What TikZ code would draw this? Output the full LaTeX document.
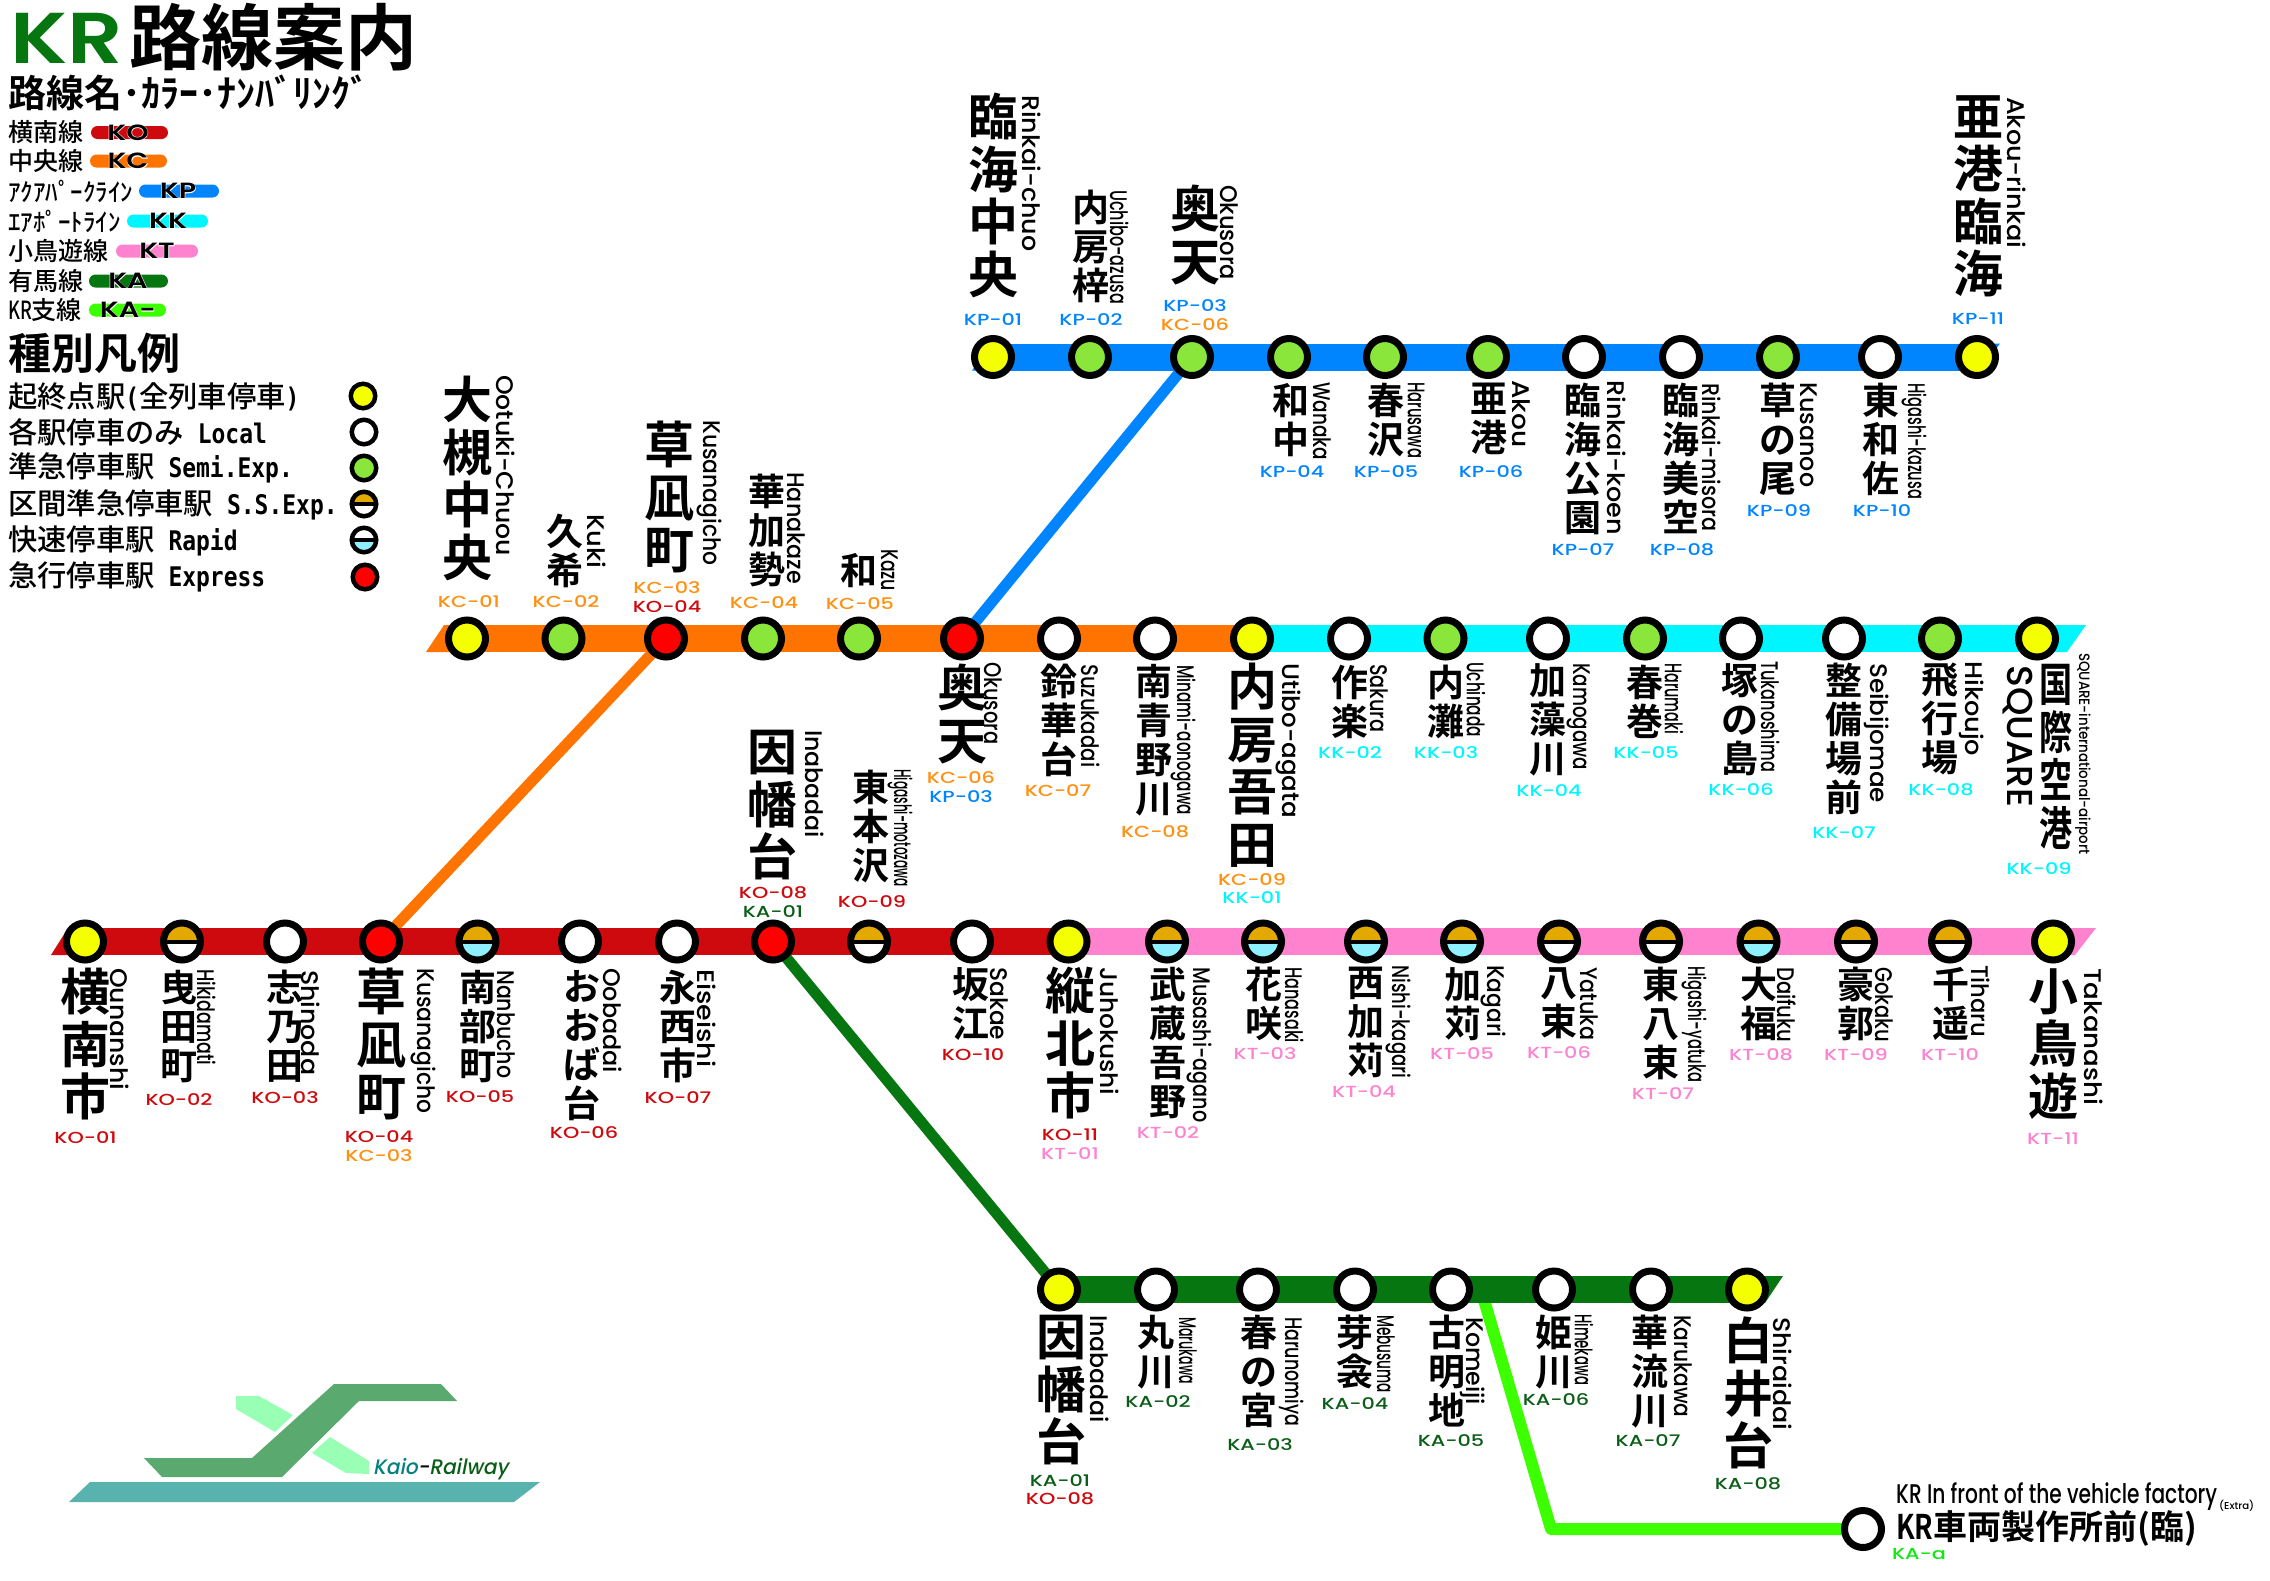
\documentclass[tikz,border=0pt]{standalone}
\usepackage{fontspec}
\usetikzlibrary{backgrounds}
\setmainfont{Noto Sans CJK JP Medium}[BoldFont={Noto Sans CJK JP Bold}]
\newfontfamily\lgmono[FakeStretch=.85]{DejaVu Sans Mono}
\newfontfamily\romafont{Poppins Medium}
\newfontfamily\krfont{Poppins SemiBold}
\newfontfamily\codefont[FakeStretch=1.3]{Poppins Medium}
\newfontfamily\pillfont[FakeStretch=1.3]{Poppins SemiBold}
\newfontfamily\pillhalo[FakeStretch=1.3,FakeBold=5]{Poppins SemiBold}
\newfontfamily\logofont[FakeSlant=0.2]{Poppins Medium}
\definecolor{kocol}{HTML}{CF0A0E}
\definecolor{kccol}{HTML}{FF7400}
\definecolor{kpcol}{HTML}{0085FF}
\definecolor{kkcol}{HTML}{00F6FF}
\definecolor{ktcol}{HTML}{FF82CF}
\definecolor{kacol}{HTML}{067610}
\definecolor{kbcol}{HTML}{3CFF00}
\definecolor{kacode}{HTML}{0B5E18}
\definecolor{kaacode}{HTML}{10E810}
\definecolor{kccode}{HTML}{FF9010}
\definecolor{startcol}{HTML}{F4FF00}
\definecolor{semicol}{HTML}{8BE63C}
\definecolor{exprcol}{HTML}{FF0000}
\definecolor{secucol}{HTML}{E3A900}
\definecolor{rapidcol}{HTML}{8FF0FF}
\definecolor{logoteal}{HTML}{58B2AE}
\definecolor{logogreen}{HTML}{5AAA70}
\definecolor{logomint}{HTML}{99FFB5}
\tikzset{
  stn/.style={circle,draw=black,line width=7pt,minimum size=37pt,inner sep=0pt,fill=white},
  ststart/.style={stn,fill=startcol},
  stsemi/.style={stn,fill=semicol},
  stexpr/.style={stn,fill=exprcol},
  sthalf/.style 2 args={stn,path picture={
    \fill[#1] (path picture bounding box.north west) rectangle (path picture bounding box.east);
    \fill[#2] (path picture bounding box.west) rectangle (path picture bounding box.south east);
    \fill[black] ([yshift=-2pt]path picture bounding box.west) rectangle ([yshift=2pt]path picture bounding box.east);}},
  lgsize/.style={line width=4.5pt,minimum size=24.5pt},
  bigjp/.style={anchor=north,inner sep=0pt,align=center,font=\bfseries\fontsize{50}{52.5}\selectfont},
  smalljp/.style={anchor=north,inner sep=0pt,align=center,font=\bfseries\fontsize{37}{39}\selectfont},
  narrowjp/.style={anchor=north,inner sep=0pt,align=center,font=\bfseries\fontsize{46}{48}\selectfont},
  romaname/.style={rotate=-90,anchor=west,inner sep=0pt,font=\romafont\fontsize{24}{24}\selectfont},
  codetxt/.style={inner sep=0pt,font=\codefont\fontsize{16}{16}\selectfont},
  lgtxt/.style={anchor=west,inner sep=0pt,font=\fontsize{25}{25}\selectfont},
  lgrow/.style={anchor=west,inner sep=0pt,font=\fontsize{29.3}{29.3}\selectfont},
  pillbox/.style={rectangle,rounded corners=6.5pt,minimum height=13pt,inner sep=0pt},
  pilltxt/.style={inner sep=0pt,font=\pillfont\fontsize{22}{22}\selectfont},
  pillback/.style={inner sep=0pt,text=white,font=\pillhalo\fontsize{22}{22}\selectfont},
  bandline/.style={line width=27pt},
  armline/.style={line width=11pt},
}
\newcommand{\stname}[9]{%
  \node[#2] (#1) at (#3,#4) {#5};
  \node[romaname] (#1r) at (#6,#7) {\resizebox{#8pt}{\height}{#9}};
}
\newcommand{\stcode}[5]{\node[codetxt,text=#2] (#1) at (#3,#4) {#5};}
\newcommand{\bandend}[4]{\fill[#2] ([shift={(#3,13.5)}]#1.center) -- ([shift={(#4,-13.5)}]#1.center) -- ([shift={(0,-13.5)}]#1.center) -- ([shift={(0,13.5)}]#1.center) -- cycle;}
\newcommand{\nrw}[1]{\scalebox{.72}[1]{#1}}
\newcommand{\lat}[1]{{\lgmono\bfseries\fontsize{27}{27}\selectfont #1}}
\newcommand{\pilllabel}[4]{%
  \node[pillback] (#1w) at (#2,#3) {#4};
  \node[pilltxt] (#1) at (#2,#3) {#4};
}
\begin{document}
\begin{tikzpicture}[x=1pt,y=-1pt]
  \useasboundingbox (0,0) rectangle (2270,1580);
  % Title
  \node[inner sep=0pt,anchor=west,text=kacol] (krlogo) at (10,38) {\resizebox{113pt}{\height}{\krfont\fontsize{72}{72}\selectfont KR}};
  \node[inner sep=0pt,anchor=west,font=\bfseries\fontsize{72}{72}\selectfont] (title) at (129,37) {路線案内};
  \node[inner sep=0pt,anchor=west,font=\bfseries\fontsize{38}{38}\selectfont] (lgtitle) at (8,93) {路線名･ｶﾗｰ･ﾅﾝﾊﾞﾘﾝｸﾞ};
  % Line legend
  \node[lgtxt] (lgko) at (8,132) {横南線};
  \node[lgtxt] (lgkc) at (8,161) {中央線};
  \node[lgtxt] (lgkp) at (8,191) {ｱｸｱﾊﾟｰｸﾗｲﾝ};
  \node[lgtxt] (lgkk) at (8,221) {ｴｱﾎﾟｰﾄﾗｲﾝ};
  \node[lgtxt] (lgkt) at (8,251) {小鳥遊線};
  \node[lgtxt] (lgka) at (8,281) {有馬線};
  \node[lgtxt] (lgkb) at (8,310) {\scalebox{.72}[1]{KR}支線};
  \node[pillbox,fill=kocol,minimum width=77pt] (pko) at (129.5,132.5) {};
  \node[pillbox,fill=kccol,minimum width=77pt] (pkc) at (128.5,161) {};
  \node[pillbox,fill=kpcol,minimum width=80pt] (pkp) at (179,191) {};
  \node[pillbox,fill=kkcol,minimum width=81pt] (pkk) at (167.5,221) {};
  \node[pillbox,fill=ktcol,minimum width=82pt] (pkt) at (157,251) {};
  \node[pillbox,fill=kacol,minimum width=79pt] (pka) at (128.5,281) {};
  \node[pillbox,fill=kbcol,minimum width=77pt] (pkb) at (127.5,310) {};
  \pilllabel{tko}{128}{132.5}{KO}
  \pilllabel{tkc}{128}{161}{KC}
  \pilllabel{tkp}{178}{191}{KP}
  \pilllabel{tkk}{168}{221}{KK}
  \pilllabel{tkt}{157}{251}{KT}
  \pilllabel{tka}{128}{281}{KA}
  \pilllabel{tkb}{128}{310}{KA-}
  % Stop legend
  \node[inner sep=0pt,anchor=west,font=\bfseries\fontsize{43}{43}\selectfont] (lgkind) at (8,353) {種別凡例};
  \node[lgrow] (rowa) at (8,397) {起終点駅\lat{(}全列車停車\lat{)}};
  \node[lgrow] (rowb) at (8,432) {各駅停車のみ\lat{\ Local}};
  \node[lgrow] (rowc) at (8,468) {準急停車駅\lat{\ Semi.Exp.}};
  \node[lgrow] (rowd) at (8,505) {区間準急停車駅\lat{\ S.S.Exp.}};
  \node[lgrow] (rowe) at (8,541) {快速停車駅\lat{\ Rapid}};
  \node[lgrow] (rowf) at (8,577) {急行停車駅\lat{\ Express}};
  \node[ststart,lgsize] (lgsa) at (363,396) {};
  \node[stn,lgsize] (lgsb) at (364,432) {};
  \node[stsemi,lgsize] (lgsc) at (364,468) {};
  \node[sthalf={secucol}{white},lgsize] (lgsd) at (364,504) {};
  \node[sthalf={white}{rapidcol},lgsize] (lgse) at (364,540) {};
  \node[stexpr,lgsize] (lgsf) at (365,577) {};
  % Aqua Park Line
  \node[ststart] (kp1) at (993,357) {};
  \node[stsemi] (kp2) at (1090,357) {};
  \node[stsemi] (kp3) at (1192,357) {};
  \node[stsemi] (kp4) at (1289,357) {};
  \node[stsemi] (kp5) at (1385,357) {};
  \node[stsemi] (kp6) at (1488,357) {};
  \node[stn] (kp7) at (1584,357) {};
  \node[stn] (kp8) at (1681,357) {};
  \node[stsemi] (kp9) at (1778,357) {};
  \node[stn] (kp10) at (1880,357) {};
  \node[ststart] (kp11) at (1977,357) {};
  \stname{kp1n}{bigjp}{993}{93}{臨\\海\\中\\央}{1032}{95}{156}{Rinkai-chuo}
  \stname{kp2n}{smalljp}{1091}{190}{内\\房\\梓}{1120}{190}{114}{Uchibo-azusa}
  \stname{kp3n}{bigjp}{1195}{185}{奥\\天}{1229}{185}{95}{Okusora}
  \stname{kp4n}{smalljp}{1291}{383}{和\\中}{1322}{382}{78}{Wanaka}
  \stname{kp5n}{smalljp}{1386}{383}{春\\沢}{1416}{382}{76}{Harusawa}
  \stname{kp6n}{smalljp}{1489}{383}{亜\\港}{1521}{380}{67}{Akou}
  \stname{kp7n}{smalljp}{1583}{383}{臨\\海\\公\\園}{1617}{380}{155}{Rinkai-koen}
  \stname{kp8n}{smalljp}{1681}{383}{臨\\海\\美\\空}{1712}{383}{148}{Rinkai-misora}
  \stname{kp9n}{smalljp}{1778}{383}{草\\の\\尾}{1809}{382}{105}{Kusanoo}
  \stname{kp10n}{smalljp}{1881}{383}{東\\和\\佐}{1914}{383}{116}{Higashi-kazusa}
  \stname{kp11n}{bigjp}{1978}{95}{亜\\港\\臨\\海}{2017}{97}{151}{Akou-rinkai}
  \stcode{kp1c}{kpcol}{993}{320}{KP-01}
  \stcode{kp2c}{kpcol}{1091}{320}{KP-02}
  \stcode{kp3c}{kpcol}{1195}{306}{KP-03}
  \stcode{kp3d}{kccode}{1195}{325}{KC-06}
  \stcode{kp4c}{kpcol}{1292}{472}{KP-04}
  \stcode{kp5c}{kpcol}{1386}{472}{KP-05}
  \stcode{kp6c}{kpcol}{1491}{472}{KP-06}
  \stcode{kp7c}{kpcol}{1583}{550}{KP-07}
  \stcode{kp8c}{kpcol}{1682}{550}{KP-08}
  \stcode{kp9c}{kpcol}{1779}{511}{KP-09}
  \stcode{kp10c}{kpcol}{1882}{511}{KP-10}
  \stcode{kp11c}{kpcol}{1978}{319}{KP-11}
  % Central Line
  \node[ststart] (kc1) at (467,638.5) {};
  \node[stsemi] (kc2) at (563.5,638.5) {};
  \node[stexpr] (kc3) at (666,638.5) {};
  \node[stsemi] (kc4) at (763,638.5) {};
  \node[stsemi] (kc5) at (859,638.5) {};
  \node[stexpr] (kc6) at (962,638.5) {};
  \node[stn] (kc7) at (1059,638.5) {};
  \node[stn] (kc8) at (1155,638.5) {};
  \node[ststart] (kc9) at (1252,638.5) {};
  \stname{kc1n}{bigjp}{467}{376}{大\\槻\\中\\央}{506}{375}{181}{Ootuki-Chuou}
  \stname{kc2n}{smalljp}{564.5}{514}{久\\希}{597}{514}{54}{Kuki}
  \stname{kc3n}{bigjp}{669}{421}{草\\凪\\町}{709}{420}{145}{Kusanagicho}
  \stname{kc4n}{smalljp}{767}{474}{華\\加\\勢}{796}{472}{112}{Hanakaze}
  \stname{kc5n}{smalljp}{859}{553}{和}{890}{549}{42}{Kazu}
  \stname{kc6n}{bigjp}{962}{664}{奥\\天}{993}{662}{82}{Okusora}
  \stname{kc7n}{smalljp}{1059}{664}{鈴\\華\\台}{1091}{664}{103}{Suzukadai}
  \stname{kc8n}{smalljp}{1154}{664}{南\\青\\野\\川}{1183}{665}{150}{Minami-aonogawa}
  \stname{kc9n}{bigjp}{1252}{663}{内\\房\\吾\\田}{1288}{663}{155}{Utibo-agata}
  \stcode{kc1c}{kccode}{469}{602}{KC-01}
  \stcode{kc2c}{kccode}{566}{602}{KC-02}
  \stcode{kc3c}{kccode}{667}{588}{KC-03}
  \stcode{kc3d}{kocol}{667}{607}{KO-04}
  \stcode{kc4c}{kccode}{764}{603}{KC-04}
  \stcode{kc5c}{kccode}{860}{603.5}{KC-05}
  \stcode{kc6c}{kccode}{961}{778}{KC-06}
  \stcode{kc6d}{kpcol}{961}{797}{KP-03}
  \stcode{kc7c}{kccode}{1058}{791}{KC-07}
  \stcode{kc8c}{kccode}{1155}{832}{KC-08}
  \stcode{kc9c}{kccode}{1252}{880}{KC-09}
  \stcode{kc9d}{kkcol}{1252}{898}{KK-01}
  % Airport Line
  \node[stn] (kk2) at (1349,638.5) {};
  \node[stsemi] (kk3) at (1445.5,638.5) {};
  \node[stn] (kk4) at (1548,638.5) {};
  \node[stsemi] (kk5) at (1645,638.5) {};
  \node[stn] (kk6) at (1741,638.5) {};
  \node[stn] (kk7) at (1844,638.5) {};
  \node[stsemi] (kk8) at (1940,638.5) {};
  \node[ststart] (kk9) at (2037,638.5) {};
  \stname{kk2n}{smalljp}{1350}{665}{作\\楽}{1379}{664}{68}{Sakura}
  \stname{kk3n}{smalljp}{1446}{665}{内\\灘}{1476}{662}{75}{Uchinada}
  \stname{kk4n}{smalljp}{1548}{663}{加\\藻\\川}{1579}{663}{107}{Kamogawa}
  \stname{kk5n}{smalljp}{1645}{665}{春\\巻}{1674}{663}{71}{Harumaki}
  \stname{kk6n}{smalljp}{1740}{663}{塚\\の\\島}{1771}{661}{111}{Tukanoshima}
  \stname{kk7n}{smalljp}{1844}{663}{整\\備\\場\\前}{1877}{663}{140}{Seibijomae}
  \stname{kk8n}{smalljp}{1940}{663}{飛\\行\\場}{1972}{661}{95}{Hikoujo}
  \stname{kk9n}{narrowjp}{2056}{664}{\nrw{国}\\\nrw{際}\\\nrw{空}\\\nrw{港}}{2083}{653}{201}{\fontsize{15}{15}\selectfont SQUARE-international-airport}
  \node[romaname] (kk9s) at (2018,665) {\resizebox{142pt}{\height}{\fontsize{36}{36}\selectfont SQUARE}};
  \stcode{kk2c}{kkcol}{1350}{753}{KK-02}
  \stcode{kk3c}{kkcol}{1446}{753}{KK-03}
  \stcode{kk4c}{kkcol}{1549}{791}{KK-04}
  \stcode{kk5c}{kkcol}{1646}{753}{KK-05}
  \stcode{kk6c}{kkcol}{1741}{790}{KK-06}
  \stcode{kk7c}{kkcol}{1844}{833}{KK-07}
  \stcode{kk8c}{kkcol}{1941}{790}{KK-08}
  \stcode{kk9c}{kkcol}{2039}{869}{KK-09}
  % Onan Line
  \node[ststart] (ko1) at (85,941.5) {};
  \node[sthalf={secucol}{white}] (ko2) at (182,941.5) {};
  \node[stn] (ko3) at (285,941.5) {};
  \node[stexpr] (ko4) at (381,941.5) {};
  \node[sthalf={secucol}{rapidcol}] (ko5) at (477.5,941.5) {};
  \node[stn] (ko6) at (580,941.5) {};
  \node[stn] (ko7) at (677,941.5) {};
  \node[stexpr] (ko8) at (773,941.5) {};
  \node[sthalf={secucol}{white}] (ko9) at (869,941.5) {};
  \node[stn] (ko10) at (972,941.5) {};
  \node[ststart] (ko11) at (1068.5,941.5) {};
  \stname{ko1n}{bigjp}{85}{968}{横\\南\\市}{120}{968}{122}{Ounanshi}
  \stname{ko2n}{smalljp}{179}{970}{曳\\田\\町}{207}{969}{96}{Hikidamati}
  \stname{ko3n}{smalljp}{285}{970}{志\\乃\\田}{311}{970}{105}{Shinoda}
  \stname{ko4n}{bigjp}{381.5}{968}{草\\凪\\町}{423}{968}{145}{Kusanagicho}
  \stname{ko5n}{smalljp}{478}{970}{南\\部\\町}{506.5}{970}{108}{Nanbucho}
  \stname{ko6n}{smalljp}{581.5}{970}{お\\お\\ば\\台}{613}{968}{105}{Oobadai}
  \stname{ko7n}{smalljp}{678}{970}{永\\西\\市}{707}{969}{98}{Eiseishi}
  \stname{ko8n}{bigjp}{772}{730}{因\\幡\\台}{815}{730}{108}{Inabadai}
  \stname{ko9n}{smalljp}{871}{770}{東\\本\\沢}{900}{769}{118}{Higashi-motozawa}
  \stname{ko10n}{smalljp}{971}{967}{坂\\江}{999}{967}{73}{Sakae}
  \stname{ko11n}{bigjp}{1070}{967}{縦\\北\\市}{1110}{967}{128}{Juhokushi}
  \stcode{ko1c}{kocol}{85.5}{1138}{KO-01}
  \stcode{ko2c}{kocol}{179}{1100}{KO-02}
  \stcode{ko3c}{kocol}{285}{1098}{KO-03}
  \stcode{ko4c}{kocol}{379}{1137}{KO-04}
  \stcode{ko4d}{kccode}{379}{1156}{KC-03}
  \stcode{ko5c}{kocol}{480}{1097}{KO-05}
  \stcode{ko6c}{kocol}{584}{1133}{KO-06}
  \stcode{ko7c}{kocol}{678}{1098}{KO-07}
  \stcode{ko8c}{kocol}{773}{893}{KO-08}
  \stcode{ko8d}{kacode}{773}{912}{KA-01}
  \stcode{ko9c}{kocol}{872}{902}{KO-09}
  \stcode{ko10c}{kocol}{973}{1055}{KO-10}
  \stcode{ko11c}{kocol}{1070}{1135}{KO-11}
  \stcode{ko11d}{ktcol}{1070}{1154}{KT-01}
  % Kotori Line
  \node[sthalf={secucol}{rapidcol}] (kt2) at (1167,941.5) {};
  \node[sthalf={secucol}{rapidcol}] (kt3) at (1263,941.5) {};
  \node[sthalf={secucol}{rapidcol}] (kt4) at (1366,941.5) {};
  \node[sthalf={secucol}{rapidcol}] (kt5) at (1462,941.5) {};
  \node[sthalf={secucol}{white}] (kt6) at (1559,941.5) {};
  \node[sthalf={secucol}{white}] (kt7) at (1661,941.5) {};
  \node[sthalf={secucol}{rapidcol}] (kt8) at (1758.5,941.5) {};
  \node[sthalf={secucol}{white}] (kt9) at (1856,941.5) {};
  \node[sthalf={secucol}{white}] (kt10) at (1950,941.5) {};
  \node[ststart] (kt11) at (2053,941.5) {};
  \stname{kt2n}{smalljp}{1168}{967}{武\\蔵\\吾\\野}{1199}{967}{155}{Musashi-agano}
  \stname{kt3n}{smalljp}{1264}{967}{花\\咲}{1295}{967}{76}{Hanasaki}
  \stname{kt4n}{smalljp}{1366}{967}{西\\加\\苅}{1398}{965}{113}{Nishi-kagari}
  \stname{kt5n}{smalljp}{1463}{967}{加\\苅}{1493}{965}{72}{Kagari}
  \stname{kt6n}{smalljp}{1559}{967}{八\\束}{1589}{967}{73}{Yatuka}
  \stname{kt7n}{smalljp}{1661}{967}{東\\八\\束}{1694}{966}{116}{Higashi-yatuka}
  \stname{kt8n}{smalljp}{1759}{967}{大\\福}{1787}{967}{75}{Daifuku}
  \stname{kt9n}{smalljp}{1856}{967}{豪\\郭}{1884}{967}{75}{Gokaku}
  \stname{kt10n}{smalljp}{1951}{967}{千\\遥}{1981}{965}{72}{Tiharu}
  \stname{kt11n}{bigjp}{2053}{968}{小\\鳥\\遊}{2094}{968}{137}{Takanashi}
  \stcode{kt2c}{ktcol}{1168}{1133}{KT-02}
  \stcode{kt3c}{ktcol}{1265}{1054}{KT-03}
  \stcode{kt4c}{ktcol}{1364}{1092}{KT-04}
  \stcode{kt5c}{ktcol}{1462}{1054}{KT-05}
  \stcode{kt6c}{ktcol}{1559}{1053}{KT-06}
  \stcode{kt7c}{ktcol}{1663}{1094}{KT-07}
  \stcode{kt8c}{ktcol}{1761}{1055}{KT-08}
  \stcode{kt9c}{ktcol}{1856}{1055}{KT-09}
  \stcode{kt10c}{ktcol}{1950}{1055}{KT-10}
  \stcode{kt11c}{ktcol}{2053}{1139}{KT-11}
  % Arima Line
  \node[ststart] (ka1) at (1059,1289.5) {};
  \node[stn] (ka2) at (1156,1289.5) {};
  \node[stn] (ka3) at (1258,1289.5) {};
  \node[stn] (ka4) at (1355,1289.5) {};
  \node[stn] (ka5) at (1451,1289.5) {};
  \node[stn] (ka6) at (1554,1289.5) {};
  \node[stn] (ka7) at (1651,1289.5) {};
  \node[ststart] (ka8) at (1747,1289.5) {};
  \node[stn] (kaa) at (1863,1529) {};
  \stname{ka1n}{bigjp}{1061}{1315}{因\\幡\\台}{1100}{1315}{108}{Inabadai}
  \stname{ka2n}{smalljp}{1156}{1315}{丸\\川}{1188}{1317}{67}{Marukawa}
  \stname{ka3n}{smalljp}{1259}{1315}{春\\の\\宮}{1292}{1317}{109}{Harunomiya}
  \stname{ka4n}{smalljp}{1355}{1315}{芽\\衾}{1386}{1315}{78}{Mebusuma}
  \stname{ka5n}{smalljp}{1447}{1315}{古\\明\\地}{1473}{1317}{88}{Komeiji}
  \stname{ka6n}{smalljp}{1554}{1315}{姫\\川}{1584}{1314}{71}{Himekawa}
  \stname{ka7n}{smalljp}{1650}{1315}{華\\流\\川}{1683}{1315}{102}{Karukawa}
  \stname{ka8n}{bigjp}{1748}{1317}{白\\井\\台}{1783}{1317}{113}{Shiraidai}
  \stcode{ka1c}{kacode}{1060}{1481}{KA-01}
  \stcode{ka1d}{kocol}{1060}{1499}{KO-08}
  \stcode{ka2c}{kacode}{1158}{1402}{KA-02}
  \stcode{ka3c}{kacode}{1260}{1445}{KA-03}
  \stcode{ka4c}{kacode}{1355}{1404}{KA-04}
  \stcode{ka5c}{kacode}{1451}{1441}{KA-05}
  \stcode{ka6c}{kacode}{1556}{1400}{KA-06}
  \stcode{ka7c}{kacode}{1648}{1441}{KA-07}
  \stcode{ka8c}{kacode}{1748}{1484}{KA-08}
  \node[inner sep=0pt,anchor=west] (kaar) at (1896,1497) {\resizebox{321pt}{\height}{\romafont\fontsize{27}{27}\selectfont KR In front of the vehicle factory}};
  \node[inner sep=0pt,anchor=west] (kaax) at (2219,1506) {\resizebox{35pt}{\height}{\romafont\fontsize{10}{10}\selectfont (Extra)}};
  \node[inner sep=0pt,anchor=west,font=\bfseries\fontsize{34}{34}\selectfont] (kaan) at (1896,1528) {\scalebox{.8}[1]{KR}車両製作所前(臨)};
  \stcode{kaac}{kaacode}{1919}{1554}{KA-a}
  % Connecting lines, under the stops
  \coordinate (kbtop) at (1481,1289.5);
  \coordinate (kbbend) at (1551,1529);
  \begin{scope}[on background layer]
    \draw[armline,kacol] (ko8.center) -- (ka1.center);
    \draw[armline,kccol] (kc3.center) -- (ko4.center);
    \draw[armline,kpcol] (kc6.center) -- (kp3.center);
    \draw[armline,kbcol,line width=12pt,line join=round] (kbtop) -- (kbbend) -- (kaa.center);
    \draw[bandline,kpcol] (kp1.center) -- (kp11.center);
    \draw[bandline,kccol] (kc1.center) -- (kc9.center);
    \draw[bandline,kkcol] (kc9.center) -- (kk9.center);
    \draw[bandline,kocol] (ko1.center) -- (ko11.center);
    \draw[bandline,ktcol] (ko11.center) -- (kt11.center);
    \draw[bandline,kacol] (ka1.center) -- (ka8.center);
    \bandend{kp1}{kpcol}{-21}{-1}
    \bandend{kp11}{kpcol}{3}{23}
    \bandend{kc1}{kccol}{-41}{-23}
    \bandend{kk9}{kkcol}{30}{49}
    \bandend{ko1}{kocol}{-34}{-17}
    \bandend{kt11}{ktcol}{22}{43}
    \bandend{ka1}{kacol}{-19}{0}
    \bandend{ka8}{kacol}{18}{36}
  \end{scope}
  % Company mark
  \fill[logoteal] (69,1502) -- (90,1482) -- (540,1482) -- (514,1502) -- cycle;
  \fill[logomint] (236,1396) -- (259,1396) -- (293,1415) -- (275,1432) -- (236,1409) -- cycle;
  \fill[logomint] (330,1437) -- (369,1461) -- (369,1474) -- (346,1473) -- (312,1453) -- cycle;
  \fill[logogreen] (144,1458) -- (252,1458) -- (334,1384) -- (441,1384) -- (457,1401) -- (359,1401) -- (282,1477) -- (162,1477) -- cycle;
  \node[inner sep=0pt,anchor=west] (logotxt) at (373,1469) {\resizebox{135pt}{\height}{\logofont\fontsize{21}{21}\selectfont\textcolor{teal}{Kaio}-\textcolor{kacode}{Railway}}};
\end{tikzpicture}
\end{document}
